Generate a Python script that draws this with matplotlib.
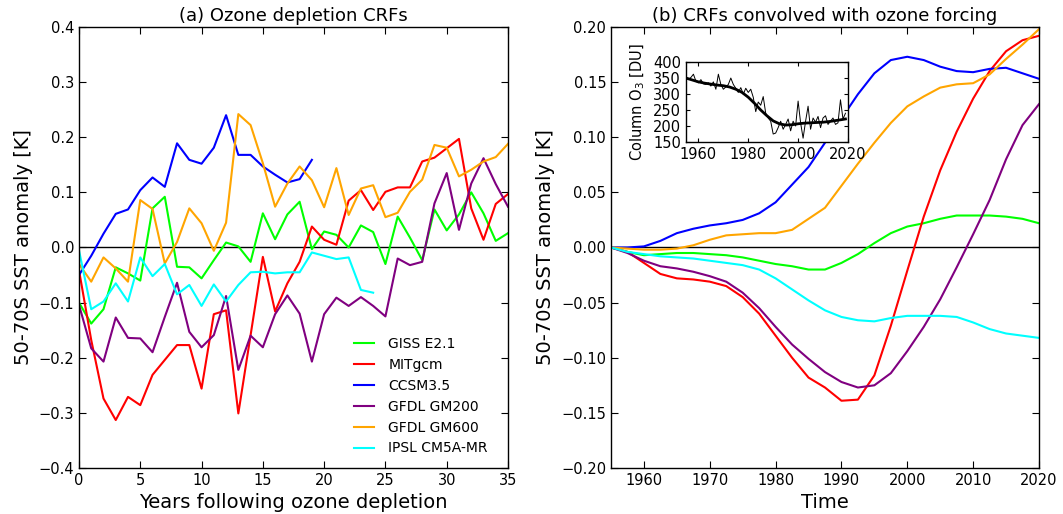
import numpy as np
import matplotlib
matplotlib.use("Agg")
import matplotlib.pyplot as plt

# ---- panel (a): CRFs, years after depletion ----
years = list(range(0, 36))
giss = [-0.10, -0.138, -0.112, -0.036, -0.047, -0.06, 0.071, 0.092, -0.035, -0.036,
        -0.056, -0.023, 0.009, 0.002, -0.026, 0.062, 0.015, 0.06, 0.083, -0.003,
        0.029, 0.023, 0.0, 0.04, 0.028, -0.03, 0.056, 0.018, -0.023, 0.069,
        0.031, 0.06, 0.10, 0.062, 0.012, 0.026]
mitgcm = [-0.041, -0.168, -0.274, -0.313, -0.271, -0.286, -0.231, -0.204, -0.177, -0.177,
          -0.256, -0.121, -0.114, -0.301, -0.159, -0.017, -0.116, -0.065, -0.026, 0.038,
          0.014, 0.005, 0.085, 0.104, 0.068, 0.101, 0.109, 0.109, 0.156, 0.163,
          0.18, 0.197, 0.071, 0.014, 0.079, 0.097]
ccsm_years = list(range(0, 20))
ccsm = [-0.05, -0.015, 0.025, 0.061, 0.069, 0.104, 0.127, 0.11, 0.189, 0.159,
        0.152, 0.181, 0.24, 0.168, 0.168, 0.147, 0.132, 0.118, 0.124, 0.159]
gm200 = [-0.104, -0.183, -0.207, -0.127, -0.164, -0.165, -0.19, -0.126, -0.064, -0.153,
         -0.181, -0.159, -0.088, -0.222, -0.16, -0.181, -0.121, -0.087, -0.12, -0.207,
         -0.121, -0.091, -0.106, -0.09, -0.106, -0.125, -0.02, -0.032, -0.026, 0.08,
         0.135, 0.032, 0.116, 0.162, 0.115, 0.074]
gm600 = [-0.03, -0.062, -0.018, -0.038, -0.062, 0.086, 0.07, -0.029, 0.01, 0.071,
         0.044, -0.006, 0.045, 0.242, 0.222, 0.153, 0.074, 0.116, 0.147, 0.122,
         0.073, 0.144, 0.059, 0.107, 0.113, 0.055, 0.063, 0.101, 0.123, 0.186,
         0.181, 0.129, 0.141, 0.156, 0.164, 0.188]
ipsl_years = list(range(0, 25))
ipsl = [-0.005, -0.112, -0.098, -0.065, -0.098, -0.018, -0.052, -0.03, -0.085, -0.068,
        -0.106, -0.067, -0.098, -0.068, -0.045, -0.044, -0.047, -0.045, -0.045, -0.009,
        -0.015, -0.021, -0.018, -0.077, -0.082]

# ---- panel (b): convolved responses ----
time = [1955, 1957.5, 1960, 1962.5, 1965, 1967.5, 1970, 1972.5, 1975, 1977.5, 1980,
        1982.5, 1985, 1987.5, 1990, 1992.5, 1995, 1997.5, 2000, 2002.5, 2005, 2007.5,
        2010, 2012.5, 2015, 2017.5, 2020]
b_giss = [0, -0.004, -0.007, -0.006, -0.005, -0.005, -0.006, -0.007, -0.009, -0.012,
          -0.015, -0.017, -0.020, -0.020, -0.014, -0.006, 0.004, 0.013, 0.019, 0.022,
          0.026, 0.029, 0.029, 0.029, 0.028, 0.026, 0.022]
b_mit = [0, -0.004, -0.014, -0.024, -0.028, -0.029, -0.031, -0.035, -0.045, -0.060,
         -0.080, -0.100, -0.118, -0.127, -0.139, -0.138, -0.116, -0.071, -0.021, 0.028,
         0.070, 0.105, 0.135, 0.160, 0.178, 0.188, 0.192]
b_ccsm = [0, 0.0, 0.001, 0.006, 0.013, 0.017, 0.020, 0.022, 0.025, 0.031, 0.041,
          0.057, 0.073, 0.095, 0.117, 0.139, 0.158, 0.170, 0.173, 0.170, 0.164, 0.160,
          0.159, 0.162, 0.163, 0.158, 0.153]
b_gm200 = [0, -0.005, -0.012, -0.017, -0.019, -0.022, -0.026, -0.031, -0.041, -0.055,
           -0.072, -0.088, -0.101, -0.113, -0.122, -0.127, -0.125, -0.114, -0.094, -0.072,
           -0.047, -0.018, 0.012, 0.043, 0.080, 0.111, 0.130]
b_gm600 = [0, -0.001, -0.002, -0.002, -0.001, 0.002, 0.007, 0.011, 0.012, 0.013, 0.013,
           0.016, 0.026, 0.036, 0.056, 0.076, 0.095, 0.113, 0.128, 0.137, 0.145, 0.148,
           0.149, 0.157, 0.171, 0.184, 0.198]
b_ipsl = [0, -0.004, -0.006, -0.008, -0.009, -0.010, -0.012, -0.014, -0.016, -0.020,
          -0.028, -0.038, -0.048, -0.057, -0.063, -0.066, -0.067, -0.064, -0.062, -0.062,
          -0.062, -0.063, -0.068, -0.074, -0.078, -0.080, -0.082]

# ---- inset: column ozone ----
o3_years = list(range(1955, 2020))
o3 = [350, 345, 352, 362, 340, 335, 345, 332, 330, 335, 325, 338, 315, 362, 330,
      315, 322, 330, 350, 330, 318, 305, 320, 300, 318, 305, 315, 290, 245, 275,
      265, 292, 240, 225, 215, 175, 178, 195, 215, 190, 205, 222, 185, 215, 200,
      278, 210, 162, 215, 262, 190, 225, 212, 230, 195, 225, 232, 205, 215, 225,
      205, 210, 282, 222, 240]
o3_fit_years = [1955, 1957.5, 1960, 1962.5, 1965, 1967.5, 1970, 1972.5, 1975, 1977.5,
                1980, 1982.5, 1985, 1987.5, 1990, 1992.5, 1995, 1997.5, 2000, 2002.5,
                2005, 2007.5, 2010, 2012.5, 2015, 2017.5, 2019]
o3_fit = [350, 344, 338, 334, 331, 328, 326, 322, 315, 305, 290, 271, 250, 232, 216,
          207, 203, 204, 207, 209, 210, 211, 212, 214, 217, 220, 222]

names = ["GISS E2.1", "MITgcm", "CCSM3.5", "GFDL GM200", "GFDL GM600", "IPSL CM5A-MR"]
colors = ["#00ff00", "red", "blue", "purple", "orange", "cyan"]

plt.rcParams.update({
    "font.family": "DejaVu Sans",
    "xtick.direction": "in", "ytick.direction": "in",
    "xtick.top": True, "ytick.right": True,
    "xtick.major.size": 5, "ytick.major.size": 5,
    "xtick.labelsize": 10.5, "ytick.labelsize": 10.5,
    "axes.linewidth": 1.0,
})


def ticklabels(vals, fmt):
    out = []
    for v in vals:
        s = fmt % (round(v, 3) + 0.0)
        if float(s) == 0:
            s = s.lstrip("-")
        out.append(s.replace("-", "\u2212"))
    return out


fig = plt.figure(figsize=(10.63, 5.14), dpi=100)
ax1 = fig.add_axes([0.0743, 0.0895, 0.4036, 0.858])
ax2 = fig.add_axes([0.5748, 0.0895, 0.4026, 0.858])

lw = 1.5
ax1.axhline(0, color="k", lw=1)
ax1.plot(years, giss, color=colors[0], lw=lw, label=names[0])
ax1.plot(years, mitgcm, color=colors[1], lw=lw, label=names[1])
ax1.plot(ccsm_years, ccsm, color=colors[2], lw=lw, label=names[2])
ax1.plot(years, gm200, color=colors[3], lw=lw, label=names[3])
ax1.plot(years, gm600, color=colors[4], lw=lw, label=names[4])
ax1.plot(ipsl_years, ipsl, color=colors[5], lw=lw, label=names[5])
ax1.set_xlim(0, 35)
ax1.set_ylim(-0.4, 0.4)
ax1.set_xticks(range(0, 36, 5))
yt1 = np.arange(-0.4, 0.41, 0.1)
ax1.set_yticks(yt1)
ax1.set_yticklabels(ticklabels(yt1, "%.1f"))
ax1.set_xlabel("Years following ozone depletion", fontsize=14)
ax1.set_ylabel("50-70S SST anomaly [K]", fontsize=14)
ax1.set_title("(a) Ozone depletion CRFs", fontsize=13, pad=4)
ax1.legend(loc="lower right", frameon=False, fontsize=10, handlelength=1.5,
           handletextpad=1.0, labelspacing=0.5, bbox_to_anchor=(0.982, 0.0))

ax2.axhline(0, color="k", lw=1)
for ys, c in zip([b_giss, b_mit, b_ccsm, b_gm200, b_gm600, b_ipsl], colors):
    ax2.plot(time, ys, color=c, lw=lw)
ax2.set_xlim(1955, 2020)
ax2.set_ylim(-0.2, 0.2)
ax2.set_xticks(range(1960, 2021, 10))
yt2 = np.arange(-0.2, 0.21, 0.05)
ax2.set_yticks(yt2)
ax2.set_yticklabels(ticklabels(yt2, "%.2f"))
ax2.set_xlabel("Time", fontsize=14)
ax2.set_ylabel("50-70S SST anomaly [K]", fontsize=14)
ax2.set_title("(b) CRFs convolved with ozone forcing", fontsize=13, pad=4)

ax3 = fig.add_axes([0.6453, 0.7237, 0.1524, 0.1556])
ax3.plot(o3_years, o3, color="k", lw=0.7)
ax3.plot(o3_fit_years, o3_fit, color="k", lw=2)
ax3.set_xlim(1955, 2019)
ax3.set_ylim(150, 400)
ax3.set_xticks([1960, 1980, 2000, 2020])
ax3.set_yticks(range(150, 401, 50))
ax3.tick_params(length=3)
ax3.set_ylabel("Column O$_3$ [DU]", fontsize=10.5)

fig.savefig("out.png", dpi=100, facecolor="white")
